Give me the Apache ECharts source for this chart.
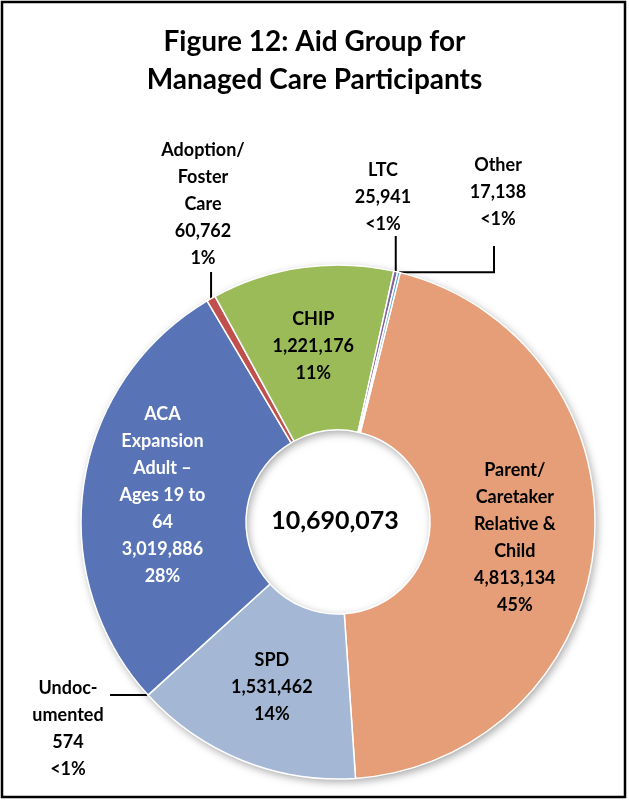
<!DOCTYPE html>
<html>
<head>
<meta charset="utf-8">
<title>Figure 12: Aid Group for Managed Care Participants</title>
<script src="https://cdn.jsdelivr.net/npm/echarts@6/dist/echarts.min.js"></script>
<style>
	html, body { margin: 0; padding: 0; background: #fff; }
	#main { width: 629px; height: 803px; }
</style>
</head>
<body>
<div id="main"></div>
<script>
	// slices, clockwise from the top
	var names = ['Parent/\nCaretaker\nRelative &\nChild', 'SPD', 'Undoc-\numented', 'ACA\nExpansion\nAdult \u2013\nAges 19 to\n64', 'Adoption/\nFoster\nCare', 'CHIP', 'LTC', 'Other'];
	var values = [4813134, 1531462, 574, 3019886, 60762, 1221176, 25941, 17138];
	var percents = ['45%', '14%', '<1%', '28%', '1%', '11%', '<1%', '<1%'];
	var colors = ['#E59E78', '#A4B8D5', '#7F7F7F', '#5874B7', '#C0504D', '#9BBB59', '#8064A2', '#4BACC6'];
	var total = 10690073;

	var fontFamily = 'Lato, "Open Sans", sans-serif';

	// where the small slices put their text (label centre), and the bend of their leader line
	var outside = {
		'Undoc-\numented': { x: 68, y: 729, bendX: 110, bendY: null },
		'Adoption/\nFoster\nCare': { x: 203, y: 204, bendX: null, bendY: 272 },
		'LTC': { x: 383, y: 197, bendX: null, bendY: 236 },
		'Other': { x: 498, y: 192, bendX: 494, bendY: 246 }
	};

	var myChart = echarts.init(document.getElementById('main'));

	var data = names.map(function(n, i){
		var item = {
			name: n,
			value: values[i],
			itemStyle: { color: colors[i] }
		};
		if(outside[n]){
			item.label = { position: 'outside', color: '#000' };
			item.labelLine = { show: true, lineStyle: { color: '#000', width: 2 } };
		} else {
			item.label = { position: 'inside', color: (i == 3 ? '#fff' : '#000') };
		}
		return item;
	});

	var option = {
		animation: false,
		backgroundColor: '#fff',
		title: {
			text: 'Figure 12: Aid Group for\nManaged Care Participants',
			left: 'center',
			top: 18,
			textStyle: {
				fontFamily: fontFamily,
				fontWeight: 'bold',
				fontSize: 28,
				lineHeight: 38,
				color: '#000'
			}
		},
		graphic: [
			{
				type: 'rect',
				shape: { x: 2, y: 2, width: 623, height: 795 },
				style: { fill: 'none', stroke: '#000', lineWidth: 2.5 },
				silent: true
			},
			{
				type: 'text',
				x: 335,
				y: 521,
				z: 100,
				silent: true,
				style: {
					text: total.toLocaleString('en-US'),
					fill: '#000',
					font: 'bold 25px ' + fontFamily,
					align: 'center',
					verticalAlign: 'middle'
				}
			}
		],
		series: [
			{
				// soft shadow under the ring
				type: 'pie',
				silent: true,
				z: 1,
				center: [338, 522],
				radius: [92, 257],
				label: { show: false },
				labelLine: { show: false },
				itemStyle: {
					color: '#fff',
					shadowBlur: 8,
					shadowOffsetX: 2,
					shadowOffsetY: 3,
					shadowColor: 'rgba(0,0,0,0.35)'
				},
				data: [total]
			},
			{
				type: 'pie',
				z: 2,
				center: [338, 522],
				radius: [92, 257],
				startAngle: 76,
				clockwise: true,
				minAngle: 0,
				avoidLabelOverlap: false,
				itemStyle: {
					borderColor: '#fff',
					borderWidth: 1.5
				},
				label: {
					show: true,
					fontFamily: fontFamily,
					fontWeight: 'bold',
					fontSize: 18,
					lineHeight: 27,
					align: 'center',
					formatter: function(p){
						return p.name + '\n' + p.value.toLocaleString('en-US') + '\n' + percents[p.dataIndex];
					}
				},
				labelLayout: function(params){
					var o = outside[names[params.dataIndex]];
					if(!o){
						return {};
					}
					var pts = params.labelLinePoints;
					var edge = pts ? pts[0] : [0, 0];
					var bend = [
						o.bendX == null ? edge[0] : o.bendX,
						o.bendY == null ? edge[1] : o.bendY
					];
					var corner = [bend[0], edge[1]];
					if(o.bendX != null && o.bendY != null){
						// horizontal from the edge, then up to the text
						return {
							x: o.x, y: o.y, align: 'center', verticalAlign: 'middle',
							labelLinePoints: [edge, corner, bend]
						};
					}
					return {
						x: o.x, y: o.y, align: 'center', verticalAlign: 'middle',
						labelLinePoints: [edge, bend, bend]
					};
				},
				data: data
			}
		]
	};

	myChart.setOption(option);
</script>
</body>
</html>
